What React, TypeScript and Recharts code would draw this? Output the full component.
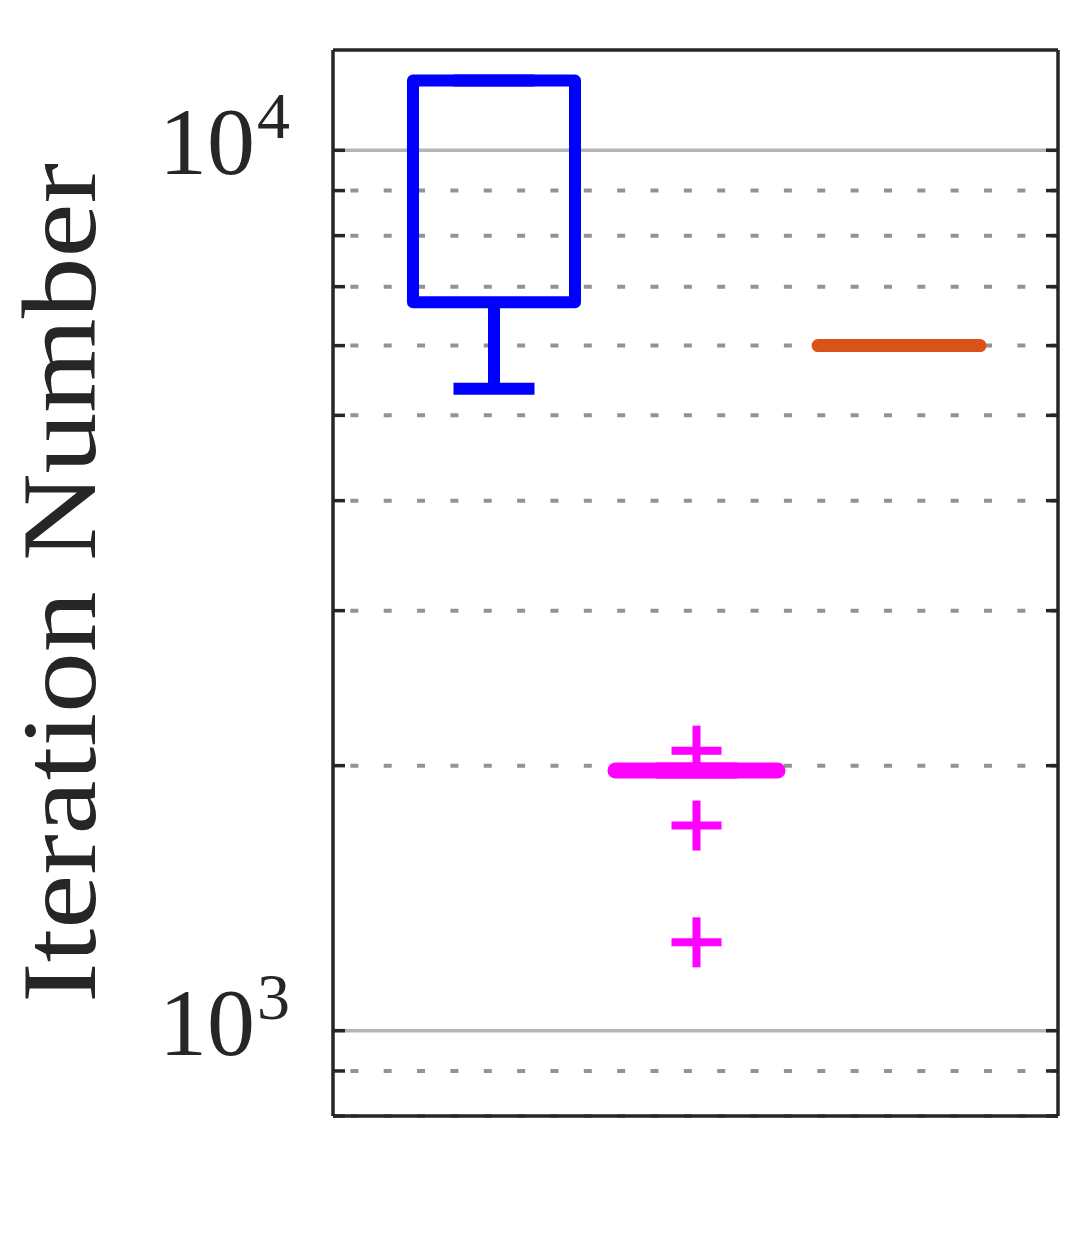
import React from 'react';
import { ComposedChart, Line, Scatter, XAxis, YAxis, ReferenceLine } from 'recharts';

// box statistics, one entry per group
const positions = [1, 2, 3];
const colors = ['#0000FF', '#FF00FF', '#D95319'];
const lineWidths = [12, 16, 13];
const lowerWhisker = [5360, 1975, 6000];
const lowerQuartile = [6720, 1975, 6000];
const medians = [12000, 1975, 6000];
const upperQuartile = [12000, 1975, 6000];
const upperWhisker = [12000, 1975, 6000];

// outliers ("+")
const outlierGroup = [2, 2, 2];
const outlierValues = [2080, 1710, 1260];

// y grid / ticks
const majorTicks = [1000, 10000];
const minorTicks = [800, 900, 2000, 3000, 4000, 5000, 6000, 7000, 8000, 9000];
const allTicks = [...minorTicks, ...majorTicks].sort((a, b) => a - b);

const X_DOMAIN = [0.205, 3.785];
const Y_DOMAIN = [800, 13000];
const BOX_HALF = 0.4;
const CAP_HALF = 0.2;

const AXIS_COLOR = '#262626';
const FONT = '"Liberation Serif", "DejaVu Serif", serif';

type Pt = { x: number; y: number | null };

const boxOutline = (i: number): Pt[] => {
  const p = positions[i];
  const gap = { x: p, y: null };
  return [
    { x: p - BOX_HALF, y: lowerQuartile[i] },
    { x: p - BOX_HALF, y: upperQuartile[i] },
    { x: p + BOX_HALF, y: upperQuartile[i] },
    { x: p + BOX_HALF, y: lowerQuartile[i] },
    { x: p - BOX_HALF, y: lowerQuartile[i] },
    gap,
    { x: p - BOX_HALF, y: medians[i] },
    { x: p + BOX_HALF, y: medians[i] },
  ];
};

const whiskers = (i: number): Pt[] => {
  const p = positions[i];
  const gap = { x: p, y: null };
  return [
    { x: p, y: lowerQuartile[i] },
    { x: p, y: lowerWhisker[i] },
    gap,
    { x: p - CAP_HALF, y: lowerWhisker[i] },
    { x: p + CAP_HALF, y: lowerWhisker[i] },
    gap,
    { x: p, y: upperQuartile[i] },
    { x: p, y: upperWhisker[i] },
    gap,
    { x: p - CAP_HALF, y: upperWhisker[i] },
    { x: p + CAP_HALF, y: upperWhisker[i] },
  ];
};

const outliers = outlierValues.map((v, i) => ({ x: outlierGroup[i], y: v }));

const PlusMarker = (props: any) => {
  const { cx, cy } = props;
  return (
    <g stroke="#FF00FF" strokeWidth={8}>
      <line x1={cx - 25} y1={cy} x2={cx + 25} y2={cy} />
      <line x1={cx} y1={cy - 25} x2={cx} y2={cy + 25} />
    </g>
  );
};

// left ticks point inward, decades get a 10^n label
const LeftTick = (props: any) => {
  const { x, y, payload } = props;
  const v = payload.value;
  const isMajor = majorTicks.includes(v);
  return (
    <g>
      <line x1={x} y1={y} x2={x + 12} y2={y} stroke={AXIS_COLOR} strokeWidth={3.5} />
      {isMajor && (
        <g fill={AXIS_COLOR} fontFamily={FONT}>
          <text x={x - 78} y={y + 24} textAnchor="end" fontSize={96}>10</text>
          <text x={x - 43} y={y - 12} textAnchor="end" fontSize={66}>
            {Math.round(Math.log10(v))}
          </text>
        </g>
      )}
    </g>
  );
};

const RightTick = (props: any) => {
  const { x, y } = props;
  return <line x1={x} y1={y} x2={x - 12} y2={y} stroke={AXIS_COLOR} strokeWidth={3.5} />;
};

const YLabel = (props: any) => {
  const vb = props.viewBox || { x: 0, y: 50, width: 333, height: 1066 };
  const cy = vb.y + vb.height / 2;
  const bx = 95;
  return (
    <text
      x={bx}
      y={cy}
      transform={`rotate(-90 ${bx} ${cy})`}
      textAnchor="middle"
      fontFamily={FONT}
      fontSize={105}
      fill={AXIS_COLOR}
      textLength={840}
      lengthAdjust="spacingAndGlyphs"
    >
      Iteration Number
    </text>
  );
};

export default function App() {
  return (
    <div style={{ position: 'absolute', left: 0, top: 0, background: '#fff' }}>
      <ComposedChart width={1083} height={1250} margin={{ top: 0, right: 0, bottom: 0, left: 0 }}>
        <XAxis
          dataKey="x"
          type="number"
          domain={X_DOMAIN}
          allowDataOverflow
          height={134}
          tick={false}
          tickLine={false}
          axisLine={{ stroke: AXIS_COLOR, strokeWidth: 3.5 }}
        />
        <XAxis
          xAxisId="t"
          dataKey="x"
          type="number"
          orientation="top"
          domain={X_DOMAIN}
          allowDataOverflow
          height={50}
          tick={false}
          tickLine={false}
          axisLine={{ stroke: AXIS_COLOR, strokeWidth: 3.5 }}
        />
        <YAxis
          type="number"
          scale="log"
          domain={Y_DOMAIN}
          allowDataOverflow
          width={333}
          ticks={allTicks}
          interval={0}
          tickSize={0}
          tickMargin={0}
          tickLine={false}
          tick={<LeftTick />}
          axisLine={{ stroke: AXIS_COLOR, strokeWidth: 3.5 }}
          label={{ content: <YLabel /> }}
        />
        <YAxis
          yAxisId="r"
          orientation="right"
          type="number"
          scale="log"
          domain={Y_DOMAIN}
          allowDataOverflow
          width={25}
          ticks={allTicks}
          interval={0}
          tickSize={0}
          tickMargin={0}
          tickLine={false}
          tick={<RightTick />}
          axisLine={{ stroke: AXIS_COLOR, strokeWidth: 3.5 }}
        />

        {majorTicks.map((v) => (
          <ReferenceLine key={'M' + v} y={v} stroke="#b5b5b5" strokeWidth={3.5} />
        ))}
        {minorTicks.map((v) => (
          <ReferenceLine
            key={'m' + v}
            y={v}
            stroke="#939393"
            strokeWidth={4}
            strokeDasharray="8 25.35"
            strokeDashoffset={16}
          />
        ))}

        {positions.map((p, i) => (
          <Line
            key={'w' + p}
            data={whiskers(i)}
            dataKey="y"
            type="linear"
            stroke={colors[i]}
            strokeWidth={lineWidths[i]}
            strokeLinecap="butt"
            dot={false}
            activeDot={false}
            isAnimationActive={false}
          />
        ))}
        {positions.map((p, i) => (
          <Line
            key={'b' + p}
            data={boxOutline(i)}
            dataKey="y"
            type="linear"
            stroke={colors[i]}
            strokeWidth={lineWidths[i]}
            strokeLinecap="round"
            strokeLinejoin="round"
            dot={false}
            activeDot={false}
            isAnimationActive={false}
          />
        ))}
        <Scatter data={outliers} dataKey="y" shape={<PlusMarker />} isAnimationActive={false} />
      </ComposedChart>
    </div>
  );
}
